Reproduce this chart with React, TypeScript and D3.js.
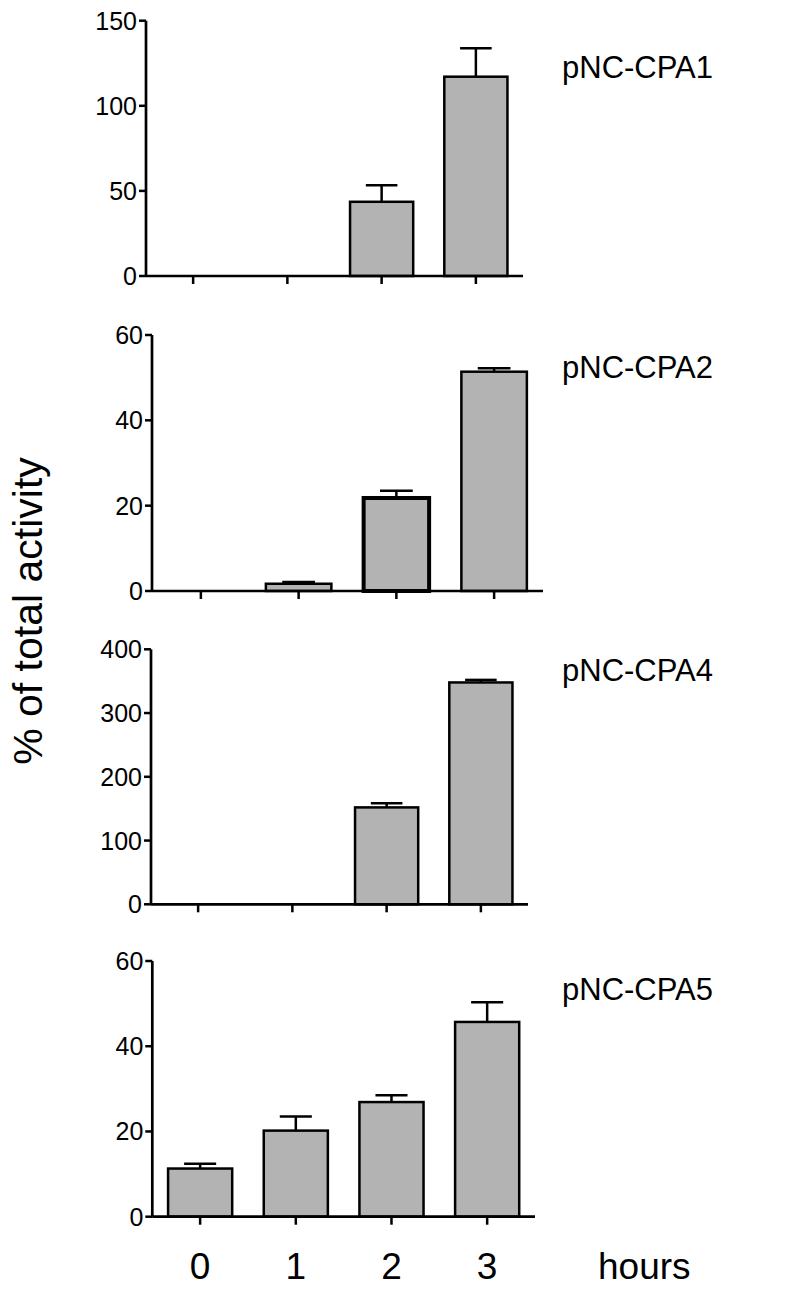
import React from "react";
import * as d3 from "d3";

// time points (hours)
const hours = ["0", "1", "2", "3"];

const panelNames = ["pNC-CPA1", "pNC-CPA2", "pNC-CPA4", "pNC-CPA5"];

// mean values per panel
const cpa1 = [0, 0, 43.6, 117.1];
const cpa2 = [0, 1.7, 21.8, 51.4];
const cpa4 = [0, 0, 152, 348];
const cpa5 = [11.3, 20.2, 26.9, 45.7];

// upper error (SEM)
const cpa1Err = [0, 0, 9.7, 16.7];
const cpa2Err = [0, 0.4, 1.7, 0.8];
const cpa4Err = [0, 0, 6.5, 4];
const cpa5Err = [1.1, 3.3, 1.6, 4.6];

// y axis maxima and tick steps
const yMax = [150, 60, 400, 60];
const yStep = [50, 20, 100, 20];

const font = "'Liberation Sans', Arial, Helvetica, sans-serif";

// panel frames on the page
const frames = [
  { x0: 146, x1: 523, top: 20.7, bottom: 276, labelY: 78 },
  { x0: 152, x1: 543, top: 335, bottom: 591, labelY: 378 },
  { x0: 151, x1: 528, top: 649.3, bottom: 904.3, labelY: 681 },
  { x0: 152.3, x1: 535, top: 961, bottom: 1216.7, labelY: 1000 },
];

const Panel = ({ i, values, errors }) => {
  const f = frames[i];
  const x = d3
    .scaleBand()
    .domain(hours)
    .range([f.x0, f.x1])
    .paddingInner(0.33)
    .paddingOuter(0.165);
  const y = d3.scaleLinear().domain([0, yMax[i]]).range([f.bottom, f.top]);
  const ticks = d3.range(0, yMax[i] + 1e-9, yStep[i]);
  const bw = x.bandwidth();

  return (
    <g>
      {/* bars with upper error bars */}
      {values.map((v, k) =>
        v > 0 ? (
          <g key={k}>
            <line
              x1={x(hours[k]) + bw / 2}
              x2={x(hours[k]) + bw / 2}
              y1={y(v)}
              y2={y(v + errors[k])}
              stroke="#000"
              strokeWidth={2.5}
            />
            <line
              x1={x(hours[k]) + bw / 4}
              x2={x(hours[k]) + (bw * 3) / 4}
              y1={y(v + errors[k])}
              y2={y(v + errors[k])}
              stroke="#000"
              strokeWidth={2.5}
            />
            <rect
              x={x(hours[k])}
              y={y(v)}
              width={bw}
              height={y(0) - y(v)}
              fill="#b3b3b3"
              stroke="#000"
              strokeWidth={i === 1 && k === 2 ? 4 : 2.5}
            />
          </g>
        ) : null
      )}
      {/* y axis */}
      <line x1={f.x0} x2={f.x0} y1={f.top} y2={f.bottom} stroke="#000" strokeWidth={2.7} />
      {ticks.map((t) => (
        <g key={t}>
          <line x1={f.x0 - 7} x2={f.x0} y1={y(t)} y2={y(t)} stroke="#000" strokeWidth={2.5} />
          <text
            x={f.x0 - 9}
            y={y(t)}
            dy="0.36em"
            textAnchor="end"
            fontSize={25}
            fontFamily={font}
          >
            {t}
          </text>
        </g>
      ))}
      {/* x axis */}
      <line x1={f.x0} x2={f.x1} y1={f.bottom} y2={f.bottom} stroke="#000" strokeWidth={2.7} />
      {hours.map((h) => (
        <line
          key={h}
          x1={x(h) + bw / 2}
          x2={x(h) + bw / 2}
          y1={f.bottom}
          y2={f.bottom + 8}
          stroke="#000"
          strokeWidth={2.5}
        />
      ))}
      <text x={562} y={f.labelY} fontSize={31} fontFamily={font}>
        {panelNames[i]}
      </text>
    </g>
  );
};

export default function App() {
  const last = frames[3];
  const x = d3
    .scaleBand()
    .domain(hours)
    .range([last.x0, last.x1])
    .paddingInner(0.33)
    .paddingOuter(0.165);

  return (
    <svg
      width={800}
      height={1308}
      style={{ position: "absolute", left: 0, top: 0, background: "#fff" }}
    >
      <rect width={800} height={1308} fill="#fff" />
      <Panel i={0} values={cpa1} errors={cpa1Err} />
      <Panel i={1} values={cpa2} errors={cpa2Err} />
      <Panel i={2} values={cpa4} errors={cpa4Err} />
      <Panel i={3} values={cpa5} errors={cpa5Err} />
      {hours.map((h) => (
        <text
          key={h}
          x={x(h) + x.bandwidth() / 2}
          y={1279}
          textAnchor="middle"
          fontSize={37}
          fontFamily={font}
        >
          {h}
        </text>
      ))}
      <text x={598} y={1279} fontSize={37} fontFamily={font}>
        hours
      </text>
      <text
        transform="translate(42,611) rotate(-90)"
        textAnchor="middle"
        fontSize={41}
        fontFamily={font}
      >
        % of total activity
      </text>
    </svg>
  );
}
